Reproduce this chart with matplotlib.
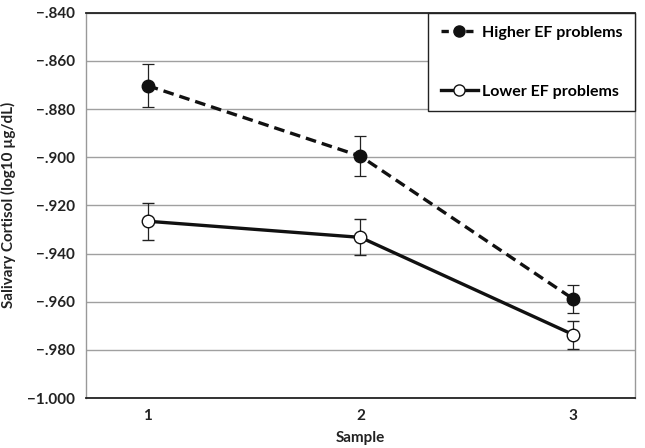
import matplotlib
matplotlib.use("Agg")
import matplotlib.pyplot as plt
from matplotlib.ticker import FuncFormatter
from matplotlib.lines import Line2D

samples = [1, 2, 3]
higher_mean = [-0.8703, -0.8996, -0.9589]
higher_err = [0.0090, 0.0083, 0.0060]
lower_mean = [-0.9266, -0.9333, -0.9737]
lower_err = [0.0076, 0.0075, 0.0058]
yticks = [-0.84, -0.86, -0.88, -0.90, -0.92, -0.94, -0.96, -0.98, -1.00]

plt.rcParams['font.family'] = ['Lato', 'DejaVu Sans']
plt.rcParams['font.weight'] = 'bold'

fig = plt.figure(figsize=(6.45, 4.48), dpi=100)
ax = fig.add_axes([0.1333, 0.1116, 0.8512, 0.8601])

dash = (0, (3.2, 1.8))
ax.errorbar(samples, higher_mean, yerr=higher_err, color='#111111', lw=2.4,
            linestyle=dash, marker='o', markersize=9,
            markerfacecolor='#111111', markeredgecolor='#111111',
            ecolor='#222222', elinewidth=0.9, capsize=4, capthick=0.9, zorder=3)
ax.errorbar(samples, lower_mean, yerr=lower_err, color='#111111', lw=2.4,
            linestyle='-', marker='o', markersize=9,
            markerfacecolor='white', markeredgecolor='#111111', markeredgewidth=1.0,
            ecolor='#222222', elinewidth=0.9, capsize=4, capthick=0.9, zorder=3)

ax.set_xlim(0.71, 3.29)
ax.set_ylim(-1.0, -0.84)
ax.set_yticks(yticks)
ax.set_xticks(samples)

def fmt(v, pos):
    s = f"{abs(v):.3f}"
    if s.startswith("0"):
        s = s[1:]
    return "\u2212" + s
ax.yaxis.set_major_formatter(FuncFormatter(fmt))

ax.grid(axis='y', color='#a0a0a0', lw=1.0)
ax.set_axisbelow(True)
ax.tick_params(length=0, labelsize=11, pad=8)
for lab in ax.get_xticklabels() + ax.get_yticklabels():
    lab.set_fontweight('bold')
    lab.set_color('#222222')

for side in ['left', 'right']:
    ax.spines[side].set_color('#999999')
    ax.spines[side].set_linewidth(1.0)
for side in ['top', 'bottom']:
    ax.spines[side].set_color('#222222')
    ax.spines[side].set_linewidth(1.3)

ax.set_xlabel('Sample', fontsize=11, fontweight='bold', color='#222222', labelpad=6)
ax.set_ylabel('Salivary Cortisol (log10 \u00b5g/dL)', fontsize=11, fontweight='bold',
              color='#222222', labelpad=8)

handles = [
    Line2D([], [], color='#111111', lw=2.4, linestyle=(0, (2.2, 1.5)), marker='o',
           markersize=8, markerfacecolor='#111111', markeredgecolor='#111111'),
    Line2D([], [], color='#111111', lw=2.4, linestyle='-', marker='o',
           markersize=8, markerfacecolor='white', markeredgecolor='#111111'),
]
leg = ax.legend(handles, ['Higher EF problems', 'Lower EF problems'],
                loc='upper right', bbox_to_anchor=(1.0, 1.0), frameon=True,
                fancybox=False, edgecolor='#222222', framealpha=1,
                prop={'weight': 'bold', 'size': 11.5}, handlelength=2.3,
                labelspacing=2.8, borderpad=0.8, handletextpad=0.25,
                borderaxespad=0)
leg.get_frame().set_linewidth(1.0)

fig.savefig('out.png', dpi=100)
